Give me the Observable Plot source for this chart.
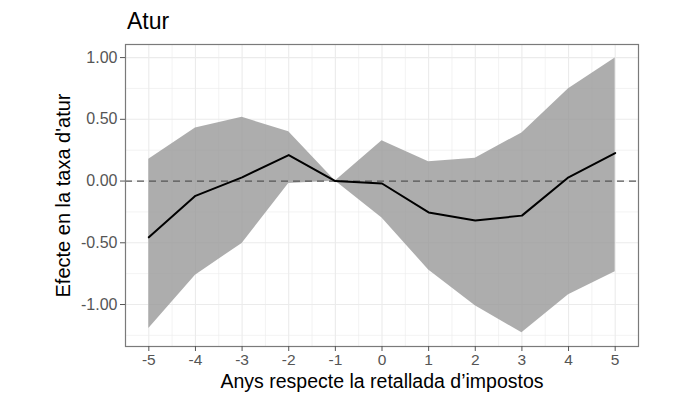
<!DOCTYPE html>
<html>
<head>
<meta charset="utf-8">
<script src="https://cdn.jsdelivr.net/npm/d3@7"></script>
<script src="https://cdn.jsdelivr.net/npm/@observablehq/plot@0.6"></script>
<style>
  html, body { margin: 0; padding: 0; background: #fff; }
  body { width: 680px; height: 407px; overflow: hidden; font-family: "Liberation Sans", Arial, sans-serif; }
  #title { height: 36px; box-sizing: border-box; padding-top: 10px; padding-left: 127px; font-size: 23px; line-height: 23px; color: #000; }
</style>
</head>
<body>
<div id="title">Atur</div>
<div id="chart"></div>
<script>
const years    = [-5, -4, -3, -2, -1, 0, 1, 2, 3, 4, 5];
const estimate = [-0.456, -0.12, 0.03, 0.21, 0.0, -0.02, -0.254, -0.32, -0.28, 0.03, 0.227];
const upper    = [0.176, 0.43, 0.516, 0.40, 0.0, 0.327, 0.156, 0.184, 0.39, 0.748, 0.997];
const lower    = [-1.194, -0.762, -0.505, -0.02, 0.0, -0.30, -0.72, -1.01, -1.229, -0.92, -0.735];
const xTicks   = [-5, -4, -3, -2, -1, 0, 1, 2, 3, 4, 5];
const xMinor   = [-4.5, -3.5, -2.5, -1.5, -0.5, 0.5, 1.5, 2.5, 3.5, 4.5];
const yTicks   = [-1.0, -0.5, 0.0, 0.5, 1.0];
const yMinor   = [-1.25, -0.75, -0.25, 0.25, 0.75];
const xTitle   = "Anys respecte la retallada d’impostos";
const yTitle   = "Efecte en la taxa d'atur";

const data = years.map((x, i) => ({x, est: estimate[i], lo: lower[i], hi: upper[i]}));

const gridColor = "#ebebeb";
const chart = Plot.plot({
  width: 680,
  height: 371,
  marginLeft: 125,
  marginRight: 42,
  marginTop: 8,
  marginBottom: 61,
  style: {fontFamily: "Liberation Sans, Arial, sans-serif", background: "#fff"},
  x: {domain: [-5.5, 5.5]},
  y: {domain: [-1.34, 1.106]},
  marks: [
    Plot.gridX(xMinor, {stroke: gridColor, strokeOpacity: 1, strokeWidth: 0.6}),
    Plot.gridY(yMinor, {stroke: gridColor, strokeOpacity: 1, strokeWidth: 0.6}),
    Plot.gridX(xTicks, {stroke: gridColor, strokeOpacity: 1, strokeWidth: 1.1}),
    Plot.gridY(yTicks, {stroke: gridColor, strokeOpacity: 1, strokeWidth: 1.1}),
    Plot.areaY(data, {x: "x", y1: "lo", y2: "hi", fill: "#999999", fillOpacity: 0.8}),
    Plot.ruleY([0], {stroke: "#555", strokeWidth: 1.3, strokeDasharray: "7,5"}),
    Plot.lineY(data, {x: "x", y: "est", stroke: "#000", strokeWidth: 2}),
    Plot.frame({stroke: "#7a7a7a", strokeWidth: 1.2}),
    Plot.axisX(xTicks, {tickSize: 5, tickPadding: 2, fontSize: 15.5, tickFormat: d => String(d), label: null, color: "#555", stroke: "#555"}),
    Plot.axisY(yTicks, {tickSize: 5, tickPadding: 3, fontSize: 16, tickFormat: d => d.toFixed(2), label: null, color: "#555", stroke: "#555"}),
    Plot.text([xTitle], {frameAnchor: "bottom", lineAnchor: "middle", dy: 35.5, fontSize: 19.5, fill: "#000"}),
    Plot.text([yTitle], {frameAnchor: "left", textAnchor: "middle", dx: -62, rotate: -90, fontSize: 20, fill: "#000"})
  ]
});
document.getElementById("chart").appendChild(chart);
</script>
</body>
</html>
